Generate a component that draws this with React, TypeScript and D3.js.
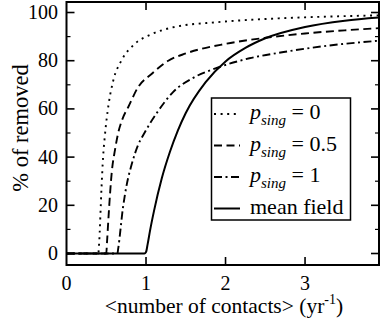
import React from "react";
import * as d3 from "d3";

const xP0 = [0, 0.4, 0.41, 0.44, 0.46, 0.48, 0.53, 0.59, 0.69, 0.86, 1.07, 1.36, 1.9, 2.5, 3.0, 3.5, 3.93];
const yP0 = [0, 0, 4, 27, 40, 48, 62, 72, 80, 87, 91, 94, 96, 97.3, 98, 98.5, 98.8];

const xP05 = [0, 0.5, 0.51, 0.53, 0.57, 0.61, 0.65, 0.7, 0.78, 0.9, 1.07, 1.28, 1.5, 2.0, 2.5, 3.0, 3.5, 3.93];
const yP05 = [0, 0, 5, 16, 34, 43, 50, 55.5, 61, 69, 74.5, 80, 83, 87, 89.5, 91.3, 92.6, 93.5];

const xP1 = [0, 0.64, 0.65, 0.71, 0.76, 0.82, 0.9, 0.98, 1.15, 1.34, 1.6, 1.89, 2.3, 2.73, 3.3, 3.93];
const yP1 = [0, 0, 2, 19, 29, 37, 45, 50, 59, 67, 73, 77, 81, 83.6, 86.3, 88.3];

const xMF = [0, 0.98, 1.0, 1.02, 1.05, 1.1, 1.2, 1.3, 1.4, 1.5, 1.75, 2.0, 2.25, 2.5, 3.0, 3.5, 3.93];
const yMF = [0, 0, 0.6, 3.8, 9.4, 17.6, 31.4, 42.1, 51, 58.3, 71.1, 79.7, 85.3, 89.3, 94, 96.6, 97.9];

const xTicks = [0, 1, 2, 3];
const yTicks = [0, 20, 40, 60, 80, 100];
const yMinor = [10, 30, 50, 70, 90];

const legendValues = ["0", "0.5", "1"];
const dashes = ["2 4.6", "8 4.5", "8 3.5 2 3.5", ""];

export default function App() {
  const W = 382, H = 326;
  const x = d3.scaleLinear().domain([0, 3.93]).range([66.5, 379]);
  const y = d3.scaleLinear().domain([-4.77, 104.36]).range([265, 2]);
  const left = 66.5, right = 379, top = 2, bottom = 265;

  const line = d3
    .line<[number, number]>()
    .x((d) => x(d[0]))
    .y((d) => y(d[1]))
    .curve(d3.curveMonotoneX);

  const series = [
    { xs: xP0, ys: yP0 },
    { xs: xP05, ys: yP05 },
    { xs: xP1, ys: yP1 },
    { xs: xMF, ys: yMF },
  ];

  const font = "Liberation Serif, Times New Roman, serif";

  return (
    <svg width={W} height={H} style={{ position: "absolute", left: 0, top: 0, fontFamily: font }}>
      <rect x={0} y={0} width={W} height={H} fill="white" />
      <defs>
        <clipPath id="plotclip">
          <rect x={left} y={top} width={right - left} height={bottom - top} />
        </clipPath>
      </defs>
      {xTicks.map((t) => (
        <g key={"xt" + t}>
          {t > 0 && (
            <>
              <line x1={x(t)} x2={x(t)} y1={bottom} y2={bottom - 8} stroke="black" strokeWidth={1.6} />
              <line x1={x(t)} x2={x(t)} y1={top} y2={top + 8} stroke="black" strokeWidth={1.6} />
            </>
          )}
          <text x={x(t)} y={290} textAnchor="middle" fontSize={20} style={{ fontFamily: font }}>
            {t}
          </text>
        </g>
      ))}
      {yTicks.map((t) => (
        <g key={"yt" + t}>
          <line x1={left} x2={left + 8} y1={y(t)} y2={y(t)} stroke="black" strokeWidth={1.6} />
          <line x1={right} x2={right - 8} y1={y(t)} y2={y(t)} stroke="black" strokeWidth={1.6} />
          <text x={58} y={y(t) + 6.5} textAnchor="end" fontSize={20} style={{ fontFamily: font }}>
            {t}
          </text>
        </g>
      ))}
      {yMinor.map((t) => (
        <g key={"ym" + t}>
          <line x1={left} x2={left + 4} y1={y(t)} y2={y(t)} stroke="black" strokeWidth={1.2} />
          <line x1={right} x2={right - 4} y1={y(t)} y2={y(t)} stroke="black" strokeWidth={1.2} />
        </g>
      ))}
      <g clipPath="url(#plotclip)">
        {series.map((s, i) => (
          <path
            key={"s" + i}
            d={line(s.xs.map((v, j) => [v, s.ys[j]] as [number, number])) || ""}
            fill="none"
            stroke="black"
            strokeWidth={i === 3 ? 2 : 1.9}
            strokeDasharray={dashes[i]}
          />
        ))}
      </g>
      <rect x={left} y={top} width={right - left} height={bottom - top} fill="none" stroke="black" strokeWidth={2} />
      <rect x={211.5} y={98} width={139} height={122} fill="white" stroke="black" strokeWidth={1.5} />
      {[0, 1, 2, 3].map((i) => {
        const by = 119 + i * 31.5;
        return (
          <g key={"lg" + i}>
            <line x1={214} x2={240} y1={by - 5} y2={by - 5} stroke="black" strokeWidth={i === 3 ? 2 : 1.9} strokeDasharray={dashes[i]} />
            {i < 3 ? (
              <text x={250} y={by} fontSize={22} style={{ fontFamily: font }}>
                <tspan fontStyle="italic">p</tspan>
                <tspan fontStyle="italic" fontSize={15} dy={6}>sing</tspan>
                <tspan dy={-6}>{" = " + legendValues[i]}</tspan>
              </text>
            ) : (
              <text x={250} y={by} fontSize={22} style={{ fontFamily: font }}>
                mean field
              </text>
            )}
          </g>
        );
      })}
      <text x={224} y={313} textAnchor="middle" fontSize={21.5} style={{ fontFamily: font }}>
        {"<number of contacts> (yr"}
        <tspan fontSize={14} dy={-9}>-1</tspan>
        <tspan dy={9}>)</tspan>
      </text>
      <text transform="translate(27.5,128) rotate(-90)" textAnchor="middle" fontSize={22.5} style={{ fontFamily: font }}>
        % of removed
      </text>
    </svg>
  );
}
